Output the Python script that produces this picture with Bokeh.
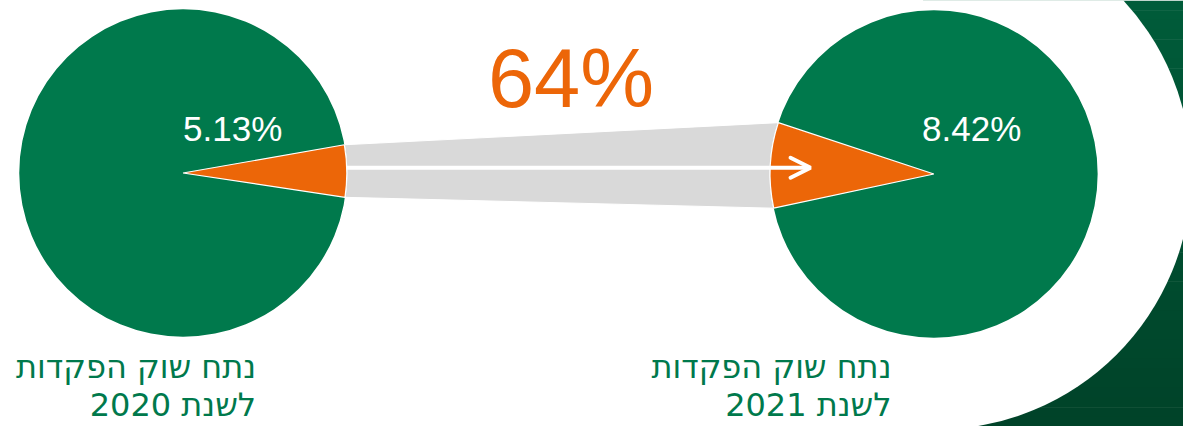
import numpy as np
from bokeh.plotting import figure
from bokeh.models import Range1d, Arrow, OpenHead
from bokeh.core.properties import value
from bokeh.embed import file_html
from bokeh.resources import INLINE

# ---- data ----
years = ["2020", "2021"]
shares = [5.13, 8.42]          # market share (%)
title_line = "נתח שוק הפקדות"
year_prefix = "לשנת"

# ---- layout: data units = reference pixels (y measured from top via Y()) ----
W, H, M = 1199, 442, 8
FW, FH = W - 2 * M, H - 2 * M
SX, SY = FW / W, FH / H
def Y(sy):
    return H - sy

FONT = value("Liberation Sans")
CAP_FONT = value("DejaVu Sans")
GREEN = "#00794C"
ORANGE = "#EC6608"
GRAY = "#D9D9D9"
BASE_FIX = 0.365   # text baseline correction (fraction of font size)

def ty(ref_baseline, fs):
    return Y(ref_baseline) + BASE_FIX * fs / SY

pie_cx = [185, 946]
pie_cy = [Y(179), Y(180)]
pie_r = 166
tilt_deg = [0.7, 176.9]

p = figure(width=FW, height=FH,
           x_range=Range1d(0, W), y_range=Range1d(0, H),
           output_backend="svg", toolbar_location=None, min_border=0,
           x_axis_location=None, y_axis_location=None)
p.grid.visible = False
p.outline_line_color = None
p.background_fill_color = "white"
p.border_fill_color = "white"

# ---- dark green corner with gradient ----
n = 44
c0 = np.array([0x00, 0x5C, 0x3A])
c1 = np.array([0x00, 0x43, 0x29])
edges = np.linspace(0, H, n + 1)
cols = []
for i in range(n):
    t = i / (n - 1)
    c = (c0 * (1 - t) + c1 * t).astype(int)
    cols.append("#%02x%02x%02x" % tuple(c))
p.quad(left=935, right=W, top=[Y(e) for e in edges[:-1]], bottom=[Y(e) - 0.6 for e in edges[1:]],
       fill_color=cols, line_color=None)

# white ring around the 2021 pie
p.circle(x=948, y=Y(180), radius=259, fill_color="white", line_color=None)

# ---- wedge geometry ----
half = [np.deg2rad(s / 100 * 360) / 2 for s in shares]
tilt = [np.deg2rad(t) for t in tilt_deg]
starts = [tilt[i] - half[i] for i in range(2)]
ends = [tilt[i] + half[i] for i in range(2)]
ry = pie_r * SX / SY   # screen circle expressed in data units

def arc(i, angs):
    return list(pie_cx[i] + pie_r * np.cos(angs)), list(pie_cy[i] + ry * np.sin(angs))

aL = np.linspace(starts[0], ends[0], 24)
aR = np.linspace(starts[1], ends[1], 24)
bx, by = [pie_cx[0] + pie_r * np.cos(ends[0])], [pie_cy[0] + ry * np.sin(ends[0])]
x1, y1 = arc(1, aR)
x2, y2 = arc(0, aL)
bx += x1 + x2
by += y1 + y2
p.patch(bx, by, fill_color=GRAY, line_color="white", line_width=1)

# pies
p.circle(x=pie_cx, y=pie_cy, radius=pie_r, fill_color=GREEN, line_color=None)
p.wedge(x=pie_cx, y=pie_cy, radius=pie_r, start_angle=starts, end_angle=ends,
        fill_color=ORANGE, line_color="white", line_width=1.2)

# arrow
p.add_layout(Arrow(end=OpenHead(size=20, line_color="white", line_width=4, line_cap="round"),
                   x_start=351, y_start=Y(173.5), x_end=821, y_end=Y(173.5),
                   line_color="white", line_width=4))

# share labels
fs = 35
p.text(x=[185, 934], y=[ty(146, fs)] * 2, text=[f"{s:.2f}%" for s in shares],
       text_color="white", text_font=FONT, text_font_size=f"{fs}px",
       text_align="left", text_baseline="alphabetic")

# growth label
growth = round((shares[1] / shares[0] - 1) * 100)
fs = 83
p.text(x=[494], y=[ty(112, fs)], text=[f"{growth}%"], text_color=ORANGE, text_font=FONT,
       text_font_size=f"{fs}px", text_align="left", text_baseline="alphabetic")

# hebrew captions
fs = 32
lab_x = [259, 903]
p.text(x=lab_x, y=[ty(392, fs)] * 2, text=[title_line] * 2, text_color=GREEN, text_font=CAP_FONT,
       text_font_size=f"{fs}px", text_align="right", text_baseline="alphabetic")
p.text(x=lab_x, y=[ty(432, fs)] * 2, text=[f"{year_prefix} {y}" for y in years], text_color=GREEN,
       text_font=CAP_FONT, text_font_size=f"{fs}px", text_align="right", text_baseline="alphabetic")

open("out.html", "w").write(file_html(p, INLINE))
